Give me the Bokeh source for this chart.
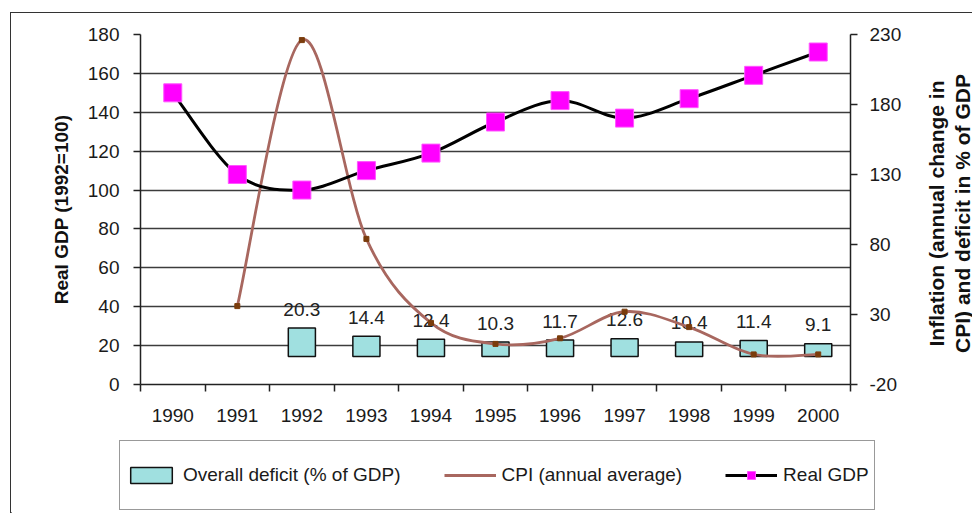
from bokeh.plotting import figure
from bokeh.layouts import column, row
from bokeh.models import (Range1d, LinearAxis, FixedTicker, Legend, LegendItem, Label,
                          PrintfTickFormatter)
from bokeh.embed import file_html
from bokeh.resources import INLINE
from bokeh.core.properties import value

# ---- data ----
years = [1990, 1991, 1992, 1993, 1994, 1995, 1996, 1997, 1998, 1999, 2000]
gdp = [150, 108, 100, 110, 119, 135, 146, 137, 147, 159, 171]

cpi_years = [1991, 1992, 1993, 1994, 1995, 1996, 1997, 1998, 1999, 2000]
cpi = [36, 226, 84, 24, 9, 13, 32, 21, 1.5, 1.5]

deficit_years = [1992, 1993, 1994, 1995, 1996, 1997, 1998, 1999, 2000]
deficit = [20.3, 14.4, 12.4, 10.3, 11.7, 12.6, 10.4, 11.4, 9.1]
deficit_labels = ["20.3", "14.4", "12.4", "10.3", "11.7", "12.6", "10.4", "11.4", "9.1"]

left_ticks = [0, 20, 40, 60, 80, 100, 120, 140, 160, 180]
right_ticks = [-20, 30, 80, 130, 180, 230]

left_title = "Real GDP (1992=100)"
right_title = "Inflation (annual change in\nCPI) and deficit in % of GDP"
series_names = ["Overall deficit (% of GDP)", "CPI (annual average)", "Real GDP"]

FONT = "Liberation Sans"
BAR_FILL = "#A0E0E0"
CPI_COLOR = "#A8675F"
CPI_MARK = "#7A3C0C"
GDP_MARK = "#FF00FF"


def smooth_segments(xs, ys):
    """Bezier control points (Catmull-Rom style, like Excel's smoothed line)."""
    n = len(xs)
    out = dict(x0=[], y0=[], x1=[], y1=[], cx0=[], cy0=[], cx1=[], cy1=[])
    for i in range(n - 1):
        a = i - 1 if i > 0 else i
        d = i + 2 if i + 2 < n else i + 1
        out["x0"].append(xs[i]); out["y0"].append(ys[i])
        out["x1"].append(xs[i + 1]); out["y1"].append(ys[i + 1])
        out["cx0"].append(xs[i] + (xs[i + 1] - xs[a]) / 6.0)
        out["cy0"].append(ys[i] + (ys[i + 1] - ys[a]) / 6.0)
        out["cx1"].append(xs[i + 1] - (xs[d] - xs[i]) / 6.0)
        out["cy1"].append(ys[i + 1] - (ys[d] - ys[i]) / 6.0)
    return out


def style_axis(ax):
    ax.minor_tick_line_color = None
    ax.major_tick_out = 7
    ax.major_tick_in = 0
    ax.major_tick_line_color = "#222"
    ax.major_tick_line_width = 1.5
    ax.axis_line_color = "#222"
    ax.axis_line_width = 1.5
    ax.major_label_text_font = FONT
    ax.major_label_text_font_size = "19px"
    ax.major_label_text_color = "#1a1a1a"


# ================= main chart =================
p = figure(width=907, height=417,
           x_range=Range1d(1989.5, 2000.5), y_range=Range1d(0, 180),
           output_backend="svg", toolbar_location=None,
           min_border_left=129, min_border_right=68,
           min_border_top=21, min_border_bottom=46)
p.extra_y_ranges = {"right": Range1d(-20, 230)}
p.outline_line_color = None
p.background_fill_color = "white"
p.border_fill_color = "white"

p.xgrid.grid_line_color = None
p.ygrid.ticker = FixedTicker(ticks=left_ticks)
p.ygrid.grid_line_color = "#3c3c3c"
p.ygrid.grid_line_width = 1.3

# x axis: labels at the years, tick marks between them
xa = p.xaxis[0]
style_axis(xa)
xa.ticker = FixedTicker(ticks=years, minor_ticks=[y - 0.5 for y in years] + [years[-1] + 0.5])
xa.major_tick_line_color = None
xa.minor_tick_line_color = "#222"
xa.minor_tick_line_width = 1.5
xa.minor_tick_out = 7
xa.minor_tick_in = 0
xa.major_label_standoff = 17

ya = p.yaxis[0]
style_axis(ya)
ya.ticker = FixedTicker(ticks=left_ticks)
ya.major_label_standoff = 14
ya.axis_label = left_title
ya.axis_label_text_font = FONT
ya.axis_label_text_font_size = "19px"
ya.axis_label_text_font_style = "bold"
ya.axis_label_text_color = "#111"
ya.axis_label_standoff = 13

ra = LinearAxis(y_range_name="right", ticker=FixedTicker(ticks=right_ticks),
                formatter=PrintfTickFormatter(format="%d"))
style_axis(ra)
ra.major_label_standoff = 12
p.add_layout(ra, "right")

# bars: overall deficit
bars = p.vbar(x=deficit_years, top=deficit, bottom=0, width=0.42, y_range_name="right",
              fill_color=BAR_FILL, line_color="#111", line_width=1.5)
p.text(x=deficit_years, y=deficit, text=deficit_labels, y_range_name="right",
       y_offset=-19, text_align="center", text_baseline="middle",
       text_font=value(FONT), text_font_size="19px", text_color="#222")

# CPI smoothed line
cs = smooth_segments(cpi_years, cpi)
p.bezier(x0=cs["x0"], y0=cs["y0"], x1=cs["x1"], y1=cs["y1"],
         cx0=cs["cx0"], cy0=cs["cy0"], cx1=cs["cx1"], cy1=cs["cy1"],
         y_range_name="right", line_color=CPI_COLOR, line_width=2.8)
p.scatter(x=cpi_years, y=cpi, y_range_name="right", marker="square", size=5,
          fill_color=CPI_MARK, line_color=CPI_MARK)

# Real GDP smoothed line
gs = smooth_segments(years, gdp)
p.bezier(x0=gs["x0"], y0=gs["y0"], x1=gs["x1"], y1=gs["y1"],
         cx0=gs["cx0"], cy0=gs["cy0"], cx1=gs["cx1"], cy1=gs["cy1"],
         line_color="black", line_width=3)
p.scatter(x=years, y=gdp, marker="square", size=18,
          fill_color=GDP_MARK, line_color="#FF55FF", line_width=1)

# ================= right title strip =================
pt = figure(width=54, height=417, x_range=Range1d(0, 1), y_range=Range1d(0, 1),
            x_axis_type=None, y_axis_type=None, output_backend="svg",
            toolbar_location=None, min_border=0)
pt.outline_line_color = None
pt.grid.visible = False
pt.add_layout(Label(x=31, y=171, x_units="screen", y_units="screen", text=right_title,
                    angle=90, angle_units="deg", text_align="center", text_baseline="middle",
                    text_font=FONT, text_font_size="21px", text_font_style="bold",
                    text_color="#111", text_line_height=1.1))

# ================= legend strip =================
# the same series are drawn outside this strip's ranges: only their legend swatches show
pl = figure(width=961, height=83, x_range=Range1d(2100, 2200), y_range=Range1d(300, 400),
            x_axis_type=None, y_axis_type=None, output_backend="svg",
            toolbar_location=None, min_border=0)
pl.outline_line_color = None
pl.grid.visible = False
lb = pl.vbar(x=deficit_years, top=deficit, width=0.42,
             fill_color=BAR_FILL, line_color="#111", line_width=1.5)
lc = pl.line(x=cpi_years, y=cpi, line_color=CPI_COLOR, line_width=2.8)
lg = pl.line(x=years, y=gdp, line_color="black", line_width=3)
lm = pl.scatter(x=years, y=gdp, marker="square", size=18,
                fill_color=GDP_MARK, line_color="#FF55FF", line_width=1)

legend = Legend(items=[LegendItem(label=series_names[0], renderers=[lb]),
                       LegendItem(label=series_names[1], renderers=[lc]),
                       LegendItem(label=series_names[2], renderers=[lg, lm])],
                orientation="horizontal", location=(108, 3))
legend.label_text_font = FONT
legend.label_text_font_size = "19px"
legend.label_text_color = "#1a1a1a"
legend.glyph_width = 52
legend.glyph_height = 20
legend.label_standoff = 6
legend.spacing = 43
legend.padding = 5
legend.label_height = 58
legend.margin = 0
legend.border_line_color = "#333"
legend.border_line_width = 1.5
legend.background_fill_color = "white"
pl.add_layout(legend, "center")

layout = column(row(p, pt), pl,
                styles={"margin-left": "10px", "margin-top": "12px",
                        "border-left": "1px solid #333", "border-top": "1px solid #333"})

open("out.html", "w").write(file_html(layout, INLINE))
